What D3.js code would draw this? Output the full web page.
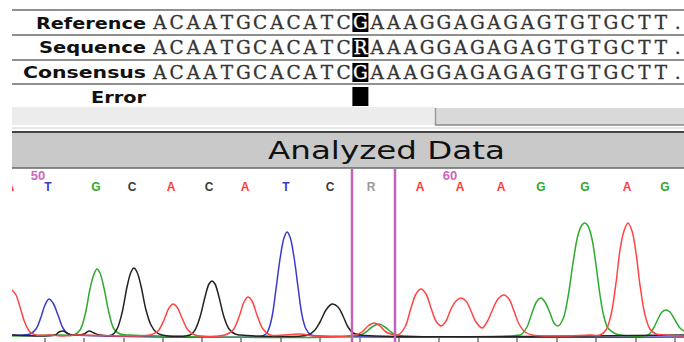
<!DOCTYPE html>
<html><head><meta charset="utf-8">
<script src="https://cdn.jsdelivr.net/npm/d3@7"></script>
<style>html,body{margin:0;padding:0;background:#fff;}svg{display:block;}</style>
</head><body>
<svg id="c" width="684" height="342"></svg>
<script>
// ---- data ----
const rowLabels = ["Reference", "Sequence", "Consensus", "Error"];
const refSeq = "ACAATGCACATCGAAAGGAGAGAGTGTGCTT.";
const sampleSeq = "ACAATGCACATCRAAAGGAGAGAGTGTGCTT.";
const consSeq = "ACAATGCACATCGAAAGGAGAGAGTGTGCTT.";
const errorIndex = 12;
const title = "Analyzed Data";
const baseCalls = ["A","T","G","C","A","C","A","T","C","R","A","A","A","G","G","A","G"];
const basePos = [10,48,96,132,171,209,245,286,330,371,420,460,501,541,585,627,665];
const posLabels = ["50","60"];
const posLabelX = [38,450];
const markerPos = [352,395];
const tickPos = [45,84,124,163,202,241,281,320,360,399,439,478,517,557,596,636,675];
// trace samples: [scan, signal]
const traceA = [[12,45],[16,40],[20,28],[25,12],[30,3],[36,0],[50,0],[64,-1],[75,0],[150,0],[158,4],[164,15],[169,27],[173,31],[177,28],[182,17],[188,5],[195,0],[225,0],[233,5],[239,18],[244,33],[248,38],[252,34],[257,20],[263,6],[270,0],[300,1],[315,-1],[355,0],[362,3],[368,9],[374,12],[380,9],[386,3],[395,0],[398,0],[405,8],[411,27],[416,41],[421,46],[426,41],[431,27],[436,14],[441,9],[446,14],[451,26],[456,34],[461,37],[466,34],[471,24],[476,13],[482,7],[487,13],[492,24],[498,36],[504,40],[509,36],[514,24],[519,11],[525,3],[532,0],[560,-1],[590,0],[600,0],[606,5],[611,20],[616,52],[620,85],[624,104],[628,112],[632,104],[636,82],[640,50],[645,20],[650,6],[656,1],[665,0],[684,-1]];
const traceC = [[12,0],[55,0],[59,3],[63,4],[67,2],[72,0],[84,1],[89,4],[94,2],[100,0],[112,0],[117,6],[122,22],[127,48],[131,63],[134,67],[137,63],[141,49],[146,25],[151,10],[156,3],[162,0],[190,0],[195,5],[200,18],[205,38],[209,51],[212,54],[215,51],[219,38],[224,18],[229,6],[235,1],[240,0],[308,0],[314,4],[320,13],[326,25],[332,31],[338,28],[343,19],[348,8],[353,2],[360,0],[684,0]];
const traceG = [[12,-1],[60,0],[74,0],[80,5],[85,20],[90,46],[94,61],[97,66],[100,62],[104,47],[109,22],[114,6],[120,1],[130,0],[360,0],[366,3],[372,8],[379,11],[385,8],[391,3],[397,0],[520,0],[522,1],[527,8],[532,22],[537,34],[541,37],[545,33],[550,22],[554,12],[558,9],[563,16],[568,38],[573,72],[578,100],[582,110],[585,112],[588,109],[592,96],[596,70],[600,40],[604,18],[608,7],[614,2],[620,0],[648,0],[653,6],[658,16],[662,23],[666,25],[670,23],[675,15],[680,7],[684,4]];
const traceT = [[12,0],[30,1],[36,6],[41,18],[45,30],[49,36],[53,32],[58,20],[63,7],[68,1],[75,0],[250,-2],[262,-1],[266,1],[268,4],[272,18],[276,46],[280,76],[284,97],[287,103],[290,98],[294,78],[298,48],[302,20],[306,6],[311,0],[320,-1],[684,-2]];

// ---- layout ----
const svg = d3.select("#c");
const W = 684;
const rowY = [10,35,60,84];
const seqStart = 160, seqStep = 16.7;
const sx = d3.scaleLinear().domain([0, refSeq.length-1]).range([seqStart, seqStart + seqStep*(refSeq.length-1)]);

// table lines
svg.selectAll("line.row").data(rowY).join("line")
  .attr("x1",12).attr("x2",W).attr("y1",d=>d).attr("y2",d=>d)
  .attr("stroke","#6a6a6a").attr("stroke-width",1.6);

// labels
const labelLen = [110,107,123,55];
svg.selectAll("text.lab").data(rowLabels).join("text")
  .attr("x",146).attr("y",(d,i)=>rowY[0]+18.5+i*24.7)
  .attr("text-anchor","end").attr("font-family","DejaVu Sans, Verdana, sans-serif")
  .attr("font-weight","bold").attr("font-size",16).attr("fill","#111")
  .attr("textLength",(d,i)=>labelLen[i]).attr("lengthAdjust","spacingAndGlyphs")
  .text(d=>d);

// sequence rows
[refSeq, sampleSeq, consSeq].forEach((s,r)=>{
  const cy = rowY[r] + 12.5;
  svg.append("rect").attr("x",sx(errorIndex)-8).attr("y",rowY[r]+3).attr("width",16).attr("height",19).attr("fill","#000");
  svg.append("g").selectAll("text").data(s.split("")).join("text")
    .attr("x",(d,i)=>sx(i)).attr("y",cy+6.5)
    .attr("text-anchor","middle").attr("font-family","DejaVu Serif, serif")
    .attr("font-size",18.5).attr("fill",(d,i)=>i===errorIndex?"#fff":"#333")
    .attr("stroke",(d,i)=>i===errorIndex?"#fff":"#333").attr("stroke-width",0.3)
    .text(d=>d);
});
// error mark
svg.append("rect").attr("x",sx(errorIndex)-8).attr("y",87).attr("width",16).attr("height",19).attr("fill","#000");

// scroll bar strip
svg.append("rect").attr("x",12).attr("y",107).attr("width",423).attr("height",18).attr("fill","#ececec");
svg.append("rect").attr("x",435).attr("y",108).attr("width",W-435).attr("height",17).attr("fill","#d9d9d9");
svg.append("line").attr("x1",435.5).attr("x2",435.5).attr("y1",108).attr("y2",125).attr("stroke","#999").attr("stroke-width",1.5);
svg.append("line").attr("x1",435).attr("x2",W).attr("y1",125).attr("y2",125).attr("stroke","#888").attr("stroke-width",1.5);
svg.append("line").attr("x1",12).attr("x2",W).attr("y1",128).attr("y2",128).attr("stroke","#cfcfcf").attr("stroke-width",1);

// header band
svg.append("rect").attr("x",12).attr("y",132).attr("width",W-12).attr("height",36).attr("fill","#c9c9c9");
svg.append("line").attr("x1",12).attr("x2",W).attr("y1",132).attr("y2",132).attr("stroke","#444").attr("stroke-width",2);
svg.append("line").attr("x1",12).attr("x2",W).attr("y1",168).attr("y2",168).attr("stroke","#666").attr("stroke-width",1.5);
svg.append("text").attr("x",268).attr("y",159).attr("font-family","DejaVu Sans, Verdana, sans-serif")
  .attr("font-size",25).attr("fill","#111").attr("textLength",237).attr("lengthAdjust","spacingAndGlyphs").text(title);

// trace scales
const x = d3.scaleLinear().domain([12,684]).range([12,684]);
const y = d3.scaleLinear().domain([0,120]).range([335,215]);

svg.append("clipPath").attr("id","clip").append("rect").attr("x",12).attr("y",168).attr("width",W-12).attr("height",180);
const plot = svg.append("g").attr("clip-path","url(#clip)");

// base calls
const baseColor = {A:"#ff3a3a",C:"#3a3a3a",G:"#2eaa2e",T:"#3a3acc",R:"#9a9a9a"};
plot.selectAll("text.base").data(baseCalls).join("text")
  .attr("x",(d,i)=>x(basePos[i])).attr("y",191).attr("text-anchor","middle")
  .attr("font-family","Liberation Sans, Arial, sans-serif").attr("font-weight","bold").attr("font-size",12)
  .attr("fill",d=>baseColor[d]).text(d=>d);
plot.selectAll("text.pos").data(posLabels).join("text")
  .attr("x",(d,i)=>x(posLabelX[i])).attr("y",180).attr("text-anchor","middle")
  .attr("font-family","Liberation Sans, Arial, sans-serif").attr("font-weight","bold").attr("font-size",13)
  .attr("fill","#cc66bb").text(d=>d);

// traces
const line = d3.line().x(d=>x(d[0])).y(d=>y(d[1])).curve(d3.curveCatmullRom.alpha(0.5));
const traces = [[traceT,"#3a3acc"],[traceG,"#2eaa2e"],[traceC,"#222222"],[traceA,"#ff4444"]];
traces.forEach(([t,c])=>{
  plot.append("path").attr("d",line(t)).attr("fill","none").attr("stroke",c).attr("stroke-width",1.5);
});

// ticks
plot.selectAll("line.tick").data(tickPos).join("line")
  .attr("x1",d=>x(d)).attr("x2",d=>x(d)).attr("y1",338).attr("y2",342)
  .attr("stroke","#333").attr("stroke-width",1);

// markers
svg.selectAll("line.mark").data(markerPos).join("line")
  .attr("x1",d=>x(d)).attr("x2",d=>x(d)).attr("y1",169).attr("y2",342)
  .attr("stroke","#c462b8").attr("stroke-width",2.5);
</script>
</body></html>
